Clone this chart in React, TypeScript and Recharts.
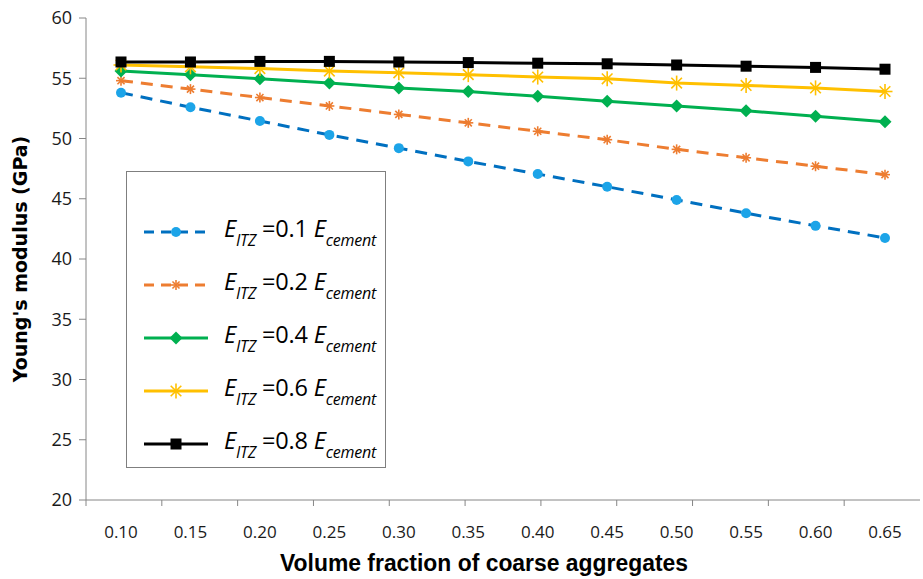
import React from "react";
import { LineChart, Line, XAxis, YAxis, Legend, Label } from "recharts";

const categories = ["0.10", "0.15", "0.20", "0.25", "0.30", "0.35", "0.40", "0.45", "0.50", "0.55", "0.60", "0.65"];

const itz01 = [53.8, 52.6, 51.45, 50.3, 49.2, 48.1, 47.05, 46.0, 44.9, 43.8, 42.75, 41.75];
const itz02 = [54.8, 54.1, 53.4, 52.7, 52.0, 51.3, 50.6, 49.9, 49.1, 48.4, 47.7, 47.0];
const itz04 = [55.6, 55.3, 54.95, 54.6, 54.2, 53.9, 53.5, 53.1, 52.7, 52.3, 51.85, 51.4];
const itz06 = [56.1, 55.95, 55.8, 55.6, 55.45, 55.3, 55.1, 54.95, 54.6, 54.4, 54.2, 53.9];
const itz08 = [56.35, 56.35, 56.4, 56.4, 56.35, 56.3, 56.25, 56.2, 56.1, 56.0, 55.9, 55.75];

const yTicks = [20, 25, 30, 35, 40, 45, 50, 55, 60];
const boundaryTicks = [0, 1, 2, 3, 4, 5, 6, 7, 8, 9, 10, 11, 12];

const data = categories.map((c, i) => ({
  x: c,
  a: itz01[i],
  b: itz02[i],
  c: itz04[i],
  d: itz06[i],
  e: itz08[i],
}));

const AXIS = "#868686";

function Asterisk({ cx, cy, r, color, w }: any) {
  const arms = [0, 45, 90, 135].map((deg) => {
    const rad = (deg * Math.PI) / 180;
    const dx = Math.cos(rad) * r;
    const dy = Math.sin(rad) * r;
    return <line key={deg} x1={cx - dx} y1={cy - dy} x2={cx + dx} y2={cy + dy} stroke={color} strokeWidth={w} />;
  });
  return <g>{arms}</g>;
}

function Marker({ kind, cx, cy }: { kind: string; cx: number; cy: number }) {
  if (kind === "circle") return <circle cx={cx} cy={cy} r={5} fill="#1CA4E8" />;
  if (kind === "ast") return <Asterisk cx={cx} cy={cy} r={5} color="#ED7D31" w={1.6} />;
  if (kind === "diamond")
    return <polygon points={`${cx},${cy - 6.5} ${cx + 6.5},${cy} ${cx},${cy + 6.5} ${cx - 6.5},${cy}`} fill="#00B050" />;
  if (kind === "star") return <Asterisk cx={cx} cy={cy} r={7.5} color="#FFC000" w={1.6} />;
  return <rect x={cx - 5.5} y={cy - 5.5} width={11} height={11} fill="#000" />;
}

const series = [
  { key: "a", label: "0.1", color: "#0070C0", dash: "12 8", marker: "circle" },
  { key: "b", label: "0.2", color: "#ED7D31", dash: "12 8", marker: "ast" },
  { key: "c", label: "0.4", color: "#00B050", dash: undefined, marker: "diamond" },
  { key: "d", label: "0.6", color: "#FFC000", dash: undefined, marker: "star" },
  { key: "e", label: "0.8", color: "#000000", dash: undefined, marker: "square" },
];

function LegendBox() {
  return (
    <div
      style={{
        width: 260,
        height: 297,
        border: "1px solid #7f7f7f",
        background: "#fff",
        boxSizing: "border-box",
        fontFamily: "'Open Sans', 'Noto Sans', sans-serif",
        paddingTop: 33,
      }}
    >
      {series.map((s) => (
        <div key={s.key} style={{ display: "flex", alignItems: "center", height: 53, marginLeft: 15 }}>
          <svg width={70} height={20} style={{ overflow: "visible" }}>
            <line x1={2} y1={10} x2={66} y2={10} stroke={s.color} strokeWidth={3} strokeDasharray={s.dash ? "10 7" : undefined} />
            <Marker kind={s.marker} cx={34} cy={10} />
          </svg>
          <span style={{ marginLeft: 12, fontSize: 23.5, color: "#000", whiteSpace: "nowrap", letterSpacing: -0.2 }}>
            <i>E</i>
            <sub style={{ fontSize: 16, fontStyle: "italic", verticalAlign: -9 }}>ITZ</sub> =0.{s.label.slice(2)}{" "}
            <i>E</i>
            <sub style={{ fontSize: 16, fontStyle: "italic", verticalAlign: -9 }}>cement</sub>
          </span>
        </div>
      ))}
    </div>
  );
}

function XTitle({ viewBox }: any) {
  const cx = viewBox.x + viewBox.width / 2 - 19;
  return (
    <text
      x={cx}
      y={viewBox.y + viewBox.height - 8}
      textAnchor="middle"
      textLength={408}
      lengthAdjust="spacingAndGlyphs"
      style={{ fill: "#000", fontSize: 23, fontWeight: 700, fontFamily: "'Liberation Sans', sans-serif" }}
    >
      Volume fraction of coarse aggregates
    </text>
  );
}

export default function App() {
  return (
    <div style={{ position: "absolute", left: 0, top: 0, background: "#fff" }}>
      <LineChart width={923} height={579} data={data} margin={{ top: 18, right: 3, left: 0, bottom: 0 }}>
        <XAxis
          xAxisId="bounds"
          type="number"
          domain={[0, 12]}
          ticks={boundaryTicks}
          tickFormatter={() => ""}
          height={8}
          stroke={AXIS}
          tickSize={6}
          allowDataOverflow
        />
        <XAxis
          xAxisId="cat"
          dataKey="x"
          padding={{ left: 35, right: 35 }}
          axisLine={false}
          tickLine={false}
          height={71}
          tickMargin={12}
          tick={{ fill: "#1a1a1a", fontSize: 17, fontFamily: "'Open Sans', sans-serif" }}
        >
          <Label content={<XTitle />} />
        </XAxis>
        <YAxis
          domain={[20, 60]}
          ticks={yTicks}
          width={86}
          stroke={AXIS}
          tickSize={7}
          tickMargin={7}
          tick={{ fill: "#1a1a1a", fontSize: 18, fontFamily: "'Open Sans', sans-serif" }}
        >
          <Label
            value="Young's modulus (GPa)"
            angle={-90}
            position="insideLeft"
            offset={20}
            style={{ textAnchor: "middle", fill: "#000", fontSize: 19, fontWeight: 700, fontFamily: "'DejaVu Sans', sans-serif" }}
          />
        </YAxis>
        <Legend
          layout="vertical"
          align="center"
          verticalAlign="middle"
          content={() => <LegendBox />}
          wrapperStyle={{ left: 126, top: 171, width: 260, height: 297 }}
        />
        {series.map((s) => (
          <Line
            key={s.key}
            xAxisId="cat"
            dataKey={s.key}
            stroke={s.color}
            strokeWidth={3}
            strokeDasharray={s.dash}
            isAnimationActive={false}
            dot={(p: any) => <Marker key={`${s.key}-${p.index}`} kind={s.marker} cx={p.cx} cy={p.cy} />}
            activeDot={false}
          />
        ))}
      </LineChart>
    </div>
  );
}
